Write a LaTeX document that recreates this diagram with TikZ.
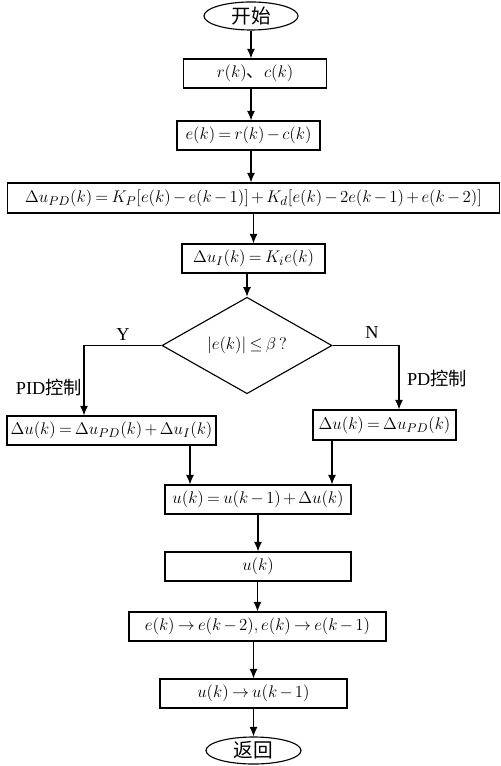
\documentclass[tikz,border=0pt]{standalone}
\usepackage{fontspec}
\setmainfont{Liberation Serif}
\newfontfamily\cjk{Noto Sans CJK SC}
\usetikzlibrary{shapes.geometric,arrows.meta}
\medmuskip=2.5mu plus 1mu minus 2mu
\thickmuskip=3.5mu plus 2mu
\tikzset{
	block/.style={draw, rectangle, line width=0.8pt, minimum height=0.725cm, inner sep=1pt, font=\fontsize{12.4}{14}\selectfont},
	term/.style={draw, ellipse, line width=0.8pt, minimum width=2.35cm, minimum height=0.7cm, inner sep=0pt, font=\cjk\fontsize{14}{16}\selectfont},
	decide/.style={draw, diamond, line width=0.8pt, minimum width=4.25cm, minimum height=1.9cm, inner sep=0pt, font=\fontsize{13}{15}\selectfont},
	arr/.style={-{Latex[length=2.4mm,width=2mm]}, line width=0.8pt},
	lbl/.style={font=\fontsize{13}{15}\selectfont}
}
\begin{document}
\begin{tikzpicture}[x=0.025cm, y=-0.025cm]
			\useasboundingbox (0,0) rectangle (500,766);
			\node	(start) at (251,16) [term] {开始};
			\node	(rc) at (255,73.5) [block, minimum width=3.575cm] {$r(k)$\cjk{、}$c(k)$};
			\node	(err) at (248.5,135.5) [block, minimum width=3.575cm] {$e(k)=r(k)-c(k)$};
			\node	(dpd) at (253.5,198) [block, minimum width=12.275cm, minimum height=0.75cm] {$\Delta u_{PD}(k)=K_P[e(k)-e(k-1)]+K_d[e(k)-2e(k-1)+e(k-2)]$};
			\node	(di) at (253.5,258.5) [block, minimum width=3.575cm] {$\Delta u_I(k)=K_ie(k)$};
			\node	(judge) at (247,345.5) [decide] {$\left|e(k)\right|\leq\beta\,?$};
			\node	(pid) at (111.5,430.5) [block, minimum width=5.225cm] {$\Delta u(k)=\Delta u_{PD}(k)+\Delta u_I(k)$};
			\node	(pd) at (384.5,425) [block, minimum width=3.575cm, minimum height=0.75cm] {$\Delta u(k)=\Delta u_{PD}(k)$};
			\node	(sum) at (258,499.5) [block, minimum width=4.65cm] {$u(k)=u(k-1)+\Delta u(k)$};
			\node	(out) at (258,566.5) [block, minimum width=4.65cm] {$u(k)$};
			\node	(shift) at (257.5,626.5) [block, minimum width=6.425cm] {$e(k)\rightarrow e(k-2),e(k)\rightarrow e(k-1)$};
			\node	(keep) at (253.5,693.5) [block, minimum width=4.675cm] {$u(k)\rightarrow u(k-1)$};
			\node	(ret) at (253.5,750.5) [term, minimum width=2.375cm, minimum height=0.675cm] {返回};
			
			\node	(ylbl) at (123,335) [lbl] {Y};
			\node	(nlbl) at (372,333) [lbl] {N};
			\node	(pidlbl) at (49,388) [lbl] {PID\cjk{控制}};
			\node	(pdlbl) at (437,379) [lbl] {PD\cjk{控制}};
			
			\coordinate (ybr) at (84,345.5);
			\coordinate (nbr) at (399,345.5);
			\coordinate (m1) at (190,0);
			\coordinate (m2) at (332,0);
			
			\draw[arr] (start.south) -- (start.south |- rc.north);
			\draw[arr] (start.south |- rc.south) -- (start.south |- err.north);
			\draw[arr] (start.south |- err.south) -- (start.south |- dpd.north);
			\draw[arr] (di.north |- dpd.south) -- (di.north);
			\draw[arr] (judge.north |- di.south) -- (judge.north);
			\draw[arr] (judge.west) -- (ybr) -- (ybr |- pid.north);
			\draw[arr] (judge.east) -- (nbr) -- (nbr |- pd.north);
			\draw[arr] (pid.south -| m1) -- (sum.north -| m1);
			\draw[arr] (pd.south -| m2) -- (sum.north -| m2);
			\draw[arr] (sum.south) -- (out.north);
			\draw[arr] (shift.north |- out.south) -- (shift.north);
			\draw[arr] (keep.north |- shift.south) -- (keep.north);
			\draw[arr] (keep.south) -- (ret.north);
\end{tikzpicture}
\end{document}
